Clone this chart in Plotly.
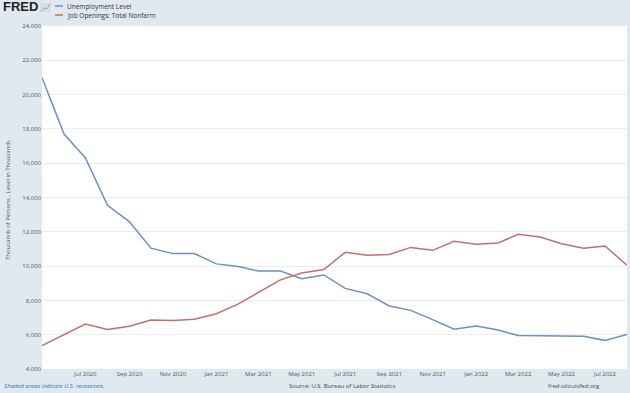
import plotly.graph_objects as go

months = ["2020-05-01", "2020-06-01", "2020-07-01", "2020-08-01", "2020-09-01", "2020-10-01",
          "2020-11-01", "2020-12-01", "2021-01-01", "2021-02-01", "2021-03-01", "2021-04-01",
          "2021-05-01", "2021-06-01", "2021-07-01", "2021-08-01", "2021-09-01", "2021-10-01",
          "2021-11-01", "2021-12-01", "2022-01-01", "2022-02-01", "2022-03-01", "2022-04-01",
          "2022-05-01", "2022-06-01", "2022-07-01", "2022-08-01"]

unemployment = [20985, 17697, 16308, 13542, 12580, 11049, 10728, 10736, 10130, 9972, 9710, 9712,
                9260, 9484, 8702, 8384, 7674, 7419, 6878, 6319, 6511, 6270, 5952, 5949,
                5952, 5912, 5670, 6014]

job_openings = [5371, 5990, 6618, 6300, 6494, 6850, 6830, 6900, 7220, 7800, 8460, 9200,
                9600, 9800, 10800, 10630, 10680, 11090, 10920, 11450, 11280, 11350, 11850, 11700,
                11300, 11040, 11170, 10050]

x_ticks = ["2020-07-01", "2020-09-01", "2020-11-01", "2021-01-01", "2021-03-01", "2021-05-01",
           "2021-07-01", "2021-09-01", "2021-11-01", "2022-01-01", "2022-03-01", "2022-05-01",
           "2022-07-01"]
x_tick_labels = ["Jul 2020", "Sep 2020", "Nov 2020", "Jan 2021", "Mar 2021", "May 2021",
                 "Jul 2021", "Sep 2021", "Nov 2021", "Jan 2022", "Mar 2022", "May 2022",
                 "Jul 2022"]
y_ticks = [4000, 6000, 8000, 10000, 12000, 14000, 16000, 18000, 20000, 22000, 24000]

BLUE = "#6b8fc6"
RED = "#c46f6c"
BG = "#e1e9f0"
FONT = "Open Sans"

L, R, T, B = 42, 3, 26, 24
W, H = 630, 393
PW, PH = W - L - R, H - T - B


def px(xp):
    return (xp - L) / PW


def py(yp):
    return (H - B - yp) / PH


fig = go.Figure()
fig.add_trace(go.Scatter(x=months, y=unemployment, mode="lines", name="Unemployment Level",
                         line=dict(color=BLUE, width=1.5)))
fig.add_trace(go.Scatter(x=months, y=job_openings, mode="lines", name="Job Openings: Total Nonfarm",
                         line=dict(color=RED, width=1.5)))

fig.update_layout(
    width=W, height=H,
    margin=dict(l=L, r=R, t=T, b=B),
    paper_bgcolor=BG, plot_bgcolor="white",
    showlegend=False,
    font=dict(family=FONT, size=6, color="#555555"),
    xaxis=dict(
        range=[months[0], months[-1]],
        tickvals=x_ticks, ticktext=x_tick_labels,
        showgrid=False, ticks="", showline=False, zeroline=False, automargin=False,
        tickfont=dict(size=6, color="#555555"),
    ),
    yaxis=dict(
        range=[4000, 24000], tickvals=y_ticks, tickformat=",d",
        showgrid=True, gridcolor="#ececec", gridwidth=1, zeroline=False,
        ticks="", showline=False, automargin=False,
        tickfont=dict(size=6, color="#555555"),
    ),
)

# Y axis title
fig.add_annotation(xref="paper", yref="paper", x=px(8), y=py(200),
                   text="Thousands of Persons , Level in Thousands", showarrow=False,
                   textangle=-90, xanchor="center", yanchor="middle",
                   font=dict(size=6, color="#555555", family=FONT))

# Legend (drawn manually to match short legend swatches)
leg = [("Unemployment Level", BLUE, 6), ("Job Openings: Total Nonfarm", RED, 15)]
for text, color, yy in leg:
    fig.add_shape(type="line", xref="paper", yref="paper",
                  x0=px(55), x1=px(63), y0=py(yy), y1=py(yy),
                  line=dict(color=color, width=1.5))
    fig.add_annotation(xref="paper", yref="paper", x=px(65), y=py(yy),
                       text=text, showarrow=False, xanchor="left", yanchor="middle",
                       font=dict(size=6.5, color="#333333", family=FONT))

# FRED logo
fig.add_annotation(xref="paper", yref="paper", x=px(1), y=py(7),
                   text="<b>FRED</b>", showarrow=False, xanchor="left", yanchor="middle",
                   font=dict(size=13, color="#222222", family="Liberation Sans"))
fig.add_shape(type="rect", xref="paper", yref="paper",
              x0=px(40), x1=px(51), y0=py(12), y1=py(3),
              line=dict(width=0), fillcolor="#d3dee8")
fig.add_shape(type="path", xref="paper", yref="paper",
              path="M {} {} L {} {} L {} {} L {} {}".format(
                  px(41), py(11), px(44), py(8), px(47), py(9), px(50), py(4)),
              line=dict(color="#8cbf7a", width=1))

# Footer
fig.add_annotation(xref="paper", yref="paper", x=px(2), y=py(386),
                   text="<i>Shaded areas indicate U.S. recessions.</i>", showarrow=False,
                   xanchor="left", yanchor="middle", font=dict(size=6, color="#3a6fb0", family=FONT))
fig.add_annotation(xref="paper", yref="paper", x=px(342), y=py(386),
                   text="Source: U.S. Bureau of Labor Statistics", showarrow=False,
                   xanchor="center", yanchor="middle", font=dict(size=6, color="#444444", family=FONT))
fig.add_annotation(xref="paper", yref="paper", x=px(602), y=py(386),
                   text="fred.stlouisfed.org", showarrow=False,
                   xanchor="right", yanchor="middle", font=dict(size=6, color="#444444", family=FONT))

fig.write_html("out.html", config={"displayModeBar": False},
               post_script="document.body.style.margin='0';document.body.style.overflow='hidden';")
